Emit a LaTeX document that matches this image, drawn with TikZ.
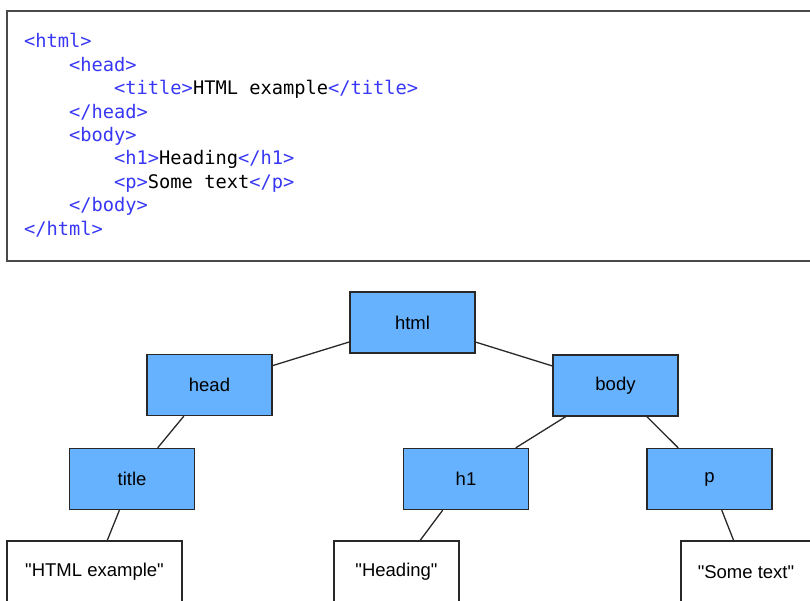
\documentclass[tikz,border=0pt]{standalone}
\usepackage{fontspec}
\setmainfont{Liberation Sans}[Ligatures=TeXOff]
\newfontfamily\codefont{DejaVu Sans Mono}
\definecolor{tagblue}{RGB}{55,55,245}
\definecolor{nodeblue}{RGB}{102,178,255}
\definecolor{frame}{RGB}{74,74,74}
\definecolor{edge}{RGB}{40,40,40}
\newcommand{\tg}[1]{\textcolor{tagblue}{#1}}
\begin{document}
\begin{tikzpicture}[x=1pt,y=-1pt,
  tagbox/.style={draw=edge, line width=1.3pt, fill=nodeblue, minimum width=125pt,
    minimum height=61pt, inner sep=0pt, font=\fontsize{18.5}{20}\selectfont},
  leafbox/.style={draw=edge, line width=1.3pt, fill=white, minimum height=62pt,
    inner sep=0pt, font=\fontsize{18.5}{20}\selectfont},
  codeline/.style={anchor=base west, inner sep=0pt, font=\codefont\fontsize{18.7}{20}\selectfont},
  link/.style={draw=edge, line width=1.3pt}]
\useasboundingbox (0,0) rectangle (810,601);
\clip (0,0) rectangle (810,601);

% source listing
\draw[draw=frame, line width=2pt] (7,11) rectangle (830,261);
\node[codeline] (c1) at (24,48)    {\tg{<html>}};
\node[codeline] (c2) at (69,71.4)  {\tg{<head>}};
\node[codeline] (c3) at (114,94.8) {\tg{<title>}HTML example\tg{</title>}};
\node[codeline] (c4) at (69,118.2) {\tg{</head>}};
\node[codeline] (c5) at (69,141.6) {\tg{<body>}};
\node[codeline] (c6) at (114,165)  {\tg{<h1>}Heading\tg{</h1>}};
\node[codeline] (c7) at (114,188.4){\tg{<p>}Some text\tg{</p>}};
\node[codeline] (c8) at (69,211.8) {\tg{</body>}};
\node[codeline] (c9) at (24,235.2) {\tg{</html>}};

% document tree
\node[tagbox] (html)  at (412.5,322.5) {html};
\node[tagbox] (head)  at (209.5,385)   {head};
\node[tagbox] (body)  at (615.5,385.5) {body};
\node[tagbox] (title) at (132,479)     {title};
\node[tagbox] (h1)    at (466,479)     {h1};
\node[tagbox] (p)     at (709.5,479)   {p};
\node[leafbox, minimum width=175pt] (t1) at (94.5,572)  {"HTML example"};
\node[leafbox, minimum width=125pt] (t2) at (396.5,572) {"Heading"};
\node[leafbox, minimum width=130pt] (t3) at (746,572)   {"Some text"};

\path[link] (html) -- (head);
\path[link] (html) -- (body);
\path[link] (head) -- (title);
\path[link] (body) -- (h1);
\path[link] (body) -- (p);
\path[link] (title) -- (t1);
\path[link] (h1) -- (t2);
\path[link] (p) -- (t3);
\end{tikzpicture}
\end{document}
